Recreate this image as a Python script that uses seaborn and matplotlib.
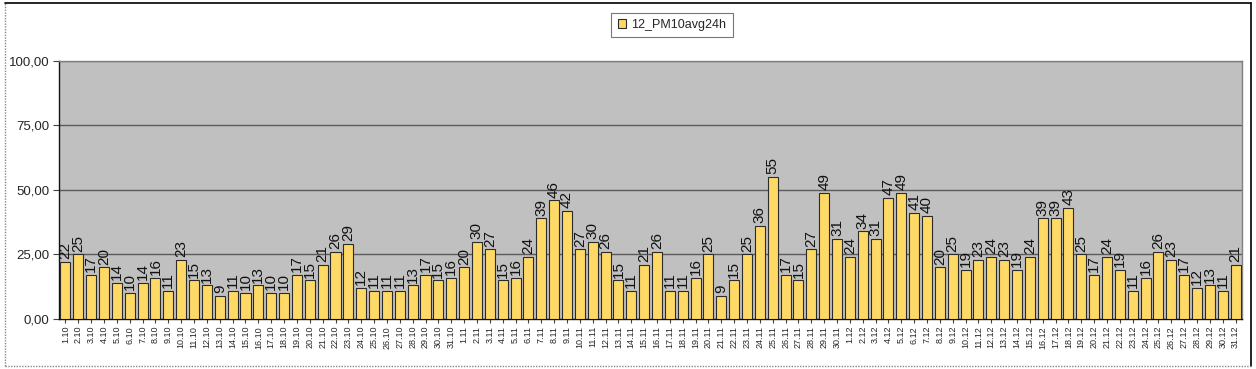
import matplotlib.pyplot as plt
from matplotlib.lines import Line2D
import numpy as np
import pandas as pd
import seaborn as sns

oct_vals = [22, 25, 17, 20, 14, 10, 14, 16, 11, 23, 15, 13, 9, 11, 10, 13, 10, 10, 17, 15,
            21, 26, 29, 12, 11, 11, 11, 13, 17, 15, 16]
nov_vals = [20, 30, 27, 15, 16, 24, 39, 46, 42, 27, 30, 26, 15, 11, 21, 26, 11, 11, 16, 25,
            9, 15, 25, 36, 55, 17, 15, 27, 49, 31]
dec_vals = [24, 34, 31, 47, 49, 41, 40, 20, 25, 19, 23, 24, 23, 19, 24, 39, 39, 43, 25, 17,
            24, 19, 11, 16, 26, 23, 17, 12, 13, 11, 21]

days = ([f"{d}.10" for d in range(1, 32)] + [f"{d}.11" for d in range(1, 31)]
        + [f"{d}.12" for d in range(1, 32)])
values = oct_vals + nov_vals + dec_vals
series_name = "12_PM10avg24h"
yticks = [0, 25, 50, 75, 100]

df = pd.DataFrame({"day": days, "val": values})

sns.set_style("white")
plt.rcParams['font.family'] = ['Liberation Sans', 'DejaVu Sans']

fig = plt.figure(figsize=(12.56, 3.69), dpi=100)
ax = fig.add_axes([0.047, 0.1355, 0.9419, 0.6992])
ax.set_facecolor("#C0C0C0")

sns.barplot(data=df, x="day", y="val", color="#FFD966", saturation=1, width=0.78,
            edgecolor="#2b2b2b", linewidth=0.8, ax=ax, zorder=3)

ax.set_ylim(0, 100)
ax.set_xlim(-0.5, len(days) - 0.5)
ax.set_yticks(yticks)
ax.set_yticklabels([f"{v:.2f}".replace(".", ",") for v in yticks], fontsize=9.5)
ax.yaxis.grid(True, color="#5a5a5a", linewidth=1, zorder=0)
ax.set_axisbelow(True)
ax.tick_params(axis="y", length=4, width=0.8, color="#444444", pad=3, left=True)
ax.tick_params(axis="x", length=3, width=0.8, color="#444444", pad=2, bottom=True)
ax.set_xticks(range(len(days)))
ax.set_xticklabels(days, rotation=90, fontsize=6.5)
ax.set_xlabel("")
ax.set_ylabel("")

for s in ["top", "right"]:
    ax.spines[s].set_color("#808080")
    ax.spines[s].set_linewidth(1)
for s in ["left", "bottom"]:
    ax.spines[s].set_color("#111111")
    ax.spines[s].set_linewidth(1)

for i, v in enumerate(values):
    ax.annotate(f"{v:d}", (i, v), xytext=(0, 2), textcoords="offset points",
                rotation=90, ha="center", va="bottom", fontsize=11, color="#111111")

leg = fig.legend(handles=ax.patches[:1], labels=[series_name], loc="center",
                 bbox_to_anchor=(0.535, 0.932), fontsize=9, frameon=True, fancybox=False,
                 handlelength=0.7, handleheight=0.7, handletextpad=0.4, borderpad=0.5)
leg.get_frame().set_edgecolor("#555555")
leg.get_frame().set_linewidth(0.8)

# outer chart frame
fig.add_artist(Line2D([0.004, 0.996], [0.992, 0.992], color="black", lw=1.2, transform=fig.transFigure))
fig.add_artist(Line2D([0.996, 0.996], [0.008, 0.992], color="black", lw=1.2, transform=fig.transFigure))
fig.add_artist(Line2D([0.004, 0.004], [0.008, 0.992], color="#888888", lw=1, ls=(0, (1, 1)), transform=fig.transFigure))
fig.add_artist(Line2D([0.004, 0.996], [0.008, 0.008], color="#888888", lw=1, ls=(0, (1, 1)), transform=fig.transFigure))

fig.savefig("out.png", dpi=100)
